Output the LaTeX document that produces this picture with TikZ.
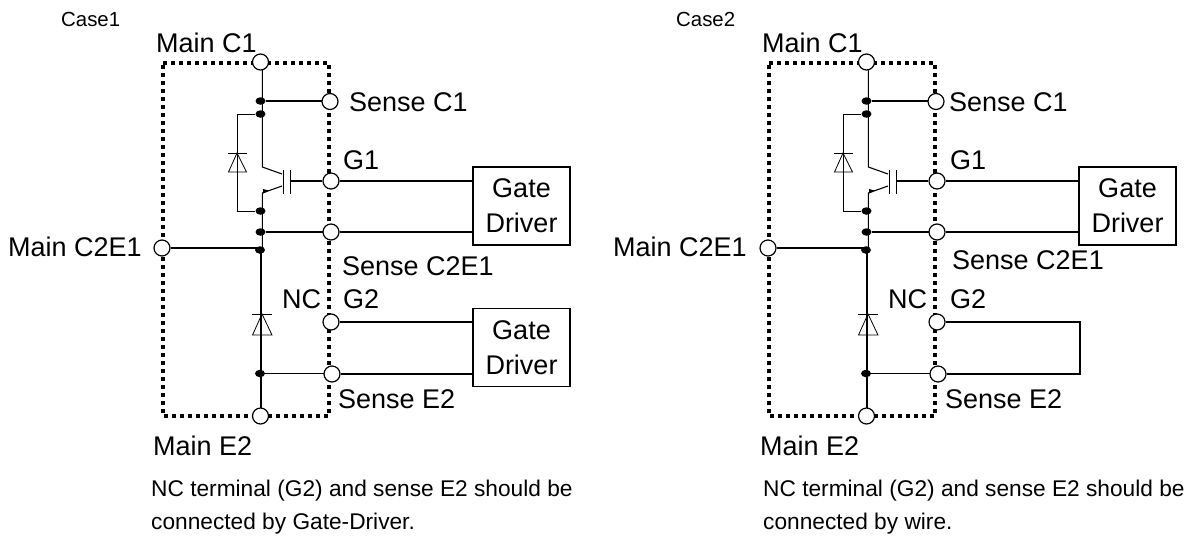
\documentclass[tikz,border=0pt]{standalone}
\usepackage{fontspec}
\setmainfont{Liberation Sans}
\usetikzlibrary{backgrounds,shapes.geometric}
\tikzset{
  px/.style={x=1pt,y=-1pt},
  term/.style={circle,draw=black,fill=white,line width=1.2pt,minimum size=16pt,inner sep=0pt},
  junc/.style={ellipse,fill=black,minimum width=10pt,minimum height=7.5pt,inner sep=0pt},
  wire/.style={draw=black,line width=1.1pt},
  thin wire/.style={draw=black,line width=0.8pt},
  dotbox/.style={draw=black,line width=3.2pt,dash pattern=on 3.6pt off 4.4pt},
  lab/.style={anchor=base west,inner sep=0pt,font=\fontsize{27}{30}\selectfont},
  small lab/.style={anchor=base west,inner sep=0pt,font=\fontsize{20.4}{24}\selectfont},
  note/.style={anchor=base west,inner sep=0pt,font=\fontsize{22.7}{26}\selectfont},
  driver/.style={draw=black,line width=1.2pt,minimum width=97pt,minimum height=78pt,inner sep=0pt,align=center,font=\fontsize{27}{35}\selectfont},
}
\newcommand{\modulecircuit}{%
  \coordinate (tl) at (163,63); \coordinate (tr) at (329,63);
  \coordinate (bl) at (163,416); \coordinate (br) at (329,416);
  \draw[dotbox] (tl) -- (tr) -- (br) -- (bl) -- cycle;
  \node[term] (mc1) at (260.5,62) {};
  \node[term] (sc1) at (330,101.5) {};
  \node[term] (g1) at (331,181) {};
  \node[term] (sc2) at (331,232) {};
  \node[term] (mc2) at (162,248) {};
  \node[term] (g2) at (331,322) {};
  \node[term] (se2) at (332,374) {};
  \node[term] (me2) at (260.5,416) {};
  \node[junc] (d1) at (260.5,101) {};
  \node[junc] (d2) at (260.5,114) {};
  \node[junc] (d3) at (260.5,211) {};
  \node[junc] (d4) at (260.5,232) {};
  \node[junc] (d5) at (260,250) {};
  \node[junc] (d6) at (260,373.5) {};
  \coordinate (cc) at (262.3,167);
  \coordinate (cg) at (282,174);
  \coordinate (eg) at (282,186);
  \coordinate (ee) at (262.3,193);
  \coordinate (lx) at (261,250);
  \coordinate (gt) at (283,170); \coordinate (gb) at (283,194);
  \coordinate (pt) at (290,170); \coordinate (pb) at (290,194);
  \coordinate (pm) at (290,181);
  \coordinate (at) at (237,114); \coordinate (ab) at (237,211);
  \begin{pgfonlayer}{background}
    \draw[wire] (cc |- mc1) -- (cc) -- (cg);
    \draw[wire] (eg) -- (ee) -- (ee |- d5);
    \draw[wire] (lx) -- (lx |- me2);
    \draw[wire] (d1) -- (d1 -| sc1);
    \draw[thin wire] (d2) -- (at) -- (ab) -- (d3);
    \draw[wire] (mc2) -- (mc2 -| d5);
    \draw[wire] (d4) -- (d4 -| sc2);
    \draw[wire] (d6) -- (d6 -| se2);
    \draw[thin wire] (gt) -- (gb);
    \draw[thin wire] (pt) -- (pb);
    \draw[wire] (pm) -- (g1);
    \fill (263,189) -- (269,190.5) -- (263,193.5) -- cycle;
  \end{pgfonlayer}
  \draw[thin wire] (228,153) -- (247,153);
  \draw[thin wire] (237,153) -- (228.5,172) -- (246.5,172) -- cycle;
  \draw[thin wire] (252,314) -- (272,314);
  \draw[thin wire] (262,314) -- (252.5,335) -- (272,335) -- cycle;
}
\begin{document}
\begin{tikzpicture}[px]
\useasboundingbox (0,0) rectangle (1193,536);
\begin{scope}[name prefix=a-]
  \modulecircuit
  \node[driver] (gd1) at (521.5,206) {Gate\\Driver};
  \node[driver] (gd2) at (521.5,347.5) {Gate\\Driver};
  \begin{pgfonlayer}{background}
    \draw[wire] (g1) -- (g1 -| gd1.west);
    \draw[wire] (sc2) -- (sc2 -| gd1.west);
    \draw[wire] (g2) -- (g2 -| gd2.west);
    \draw[wire] (se2) -- (se2 -| gd2.west);
  \end{pgfonlayer}
\end{scope}
\node[small lab] (t1) at (61,26.5) {Case1};
\node[lab] (t2) at (156,52.5) {Main C1};
\node[lab] (t3) at (349,111) {Sense C1};
\node[lab] (t4) at (343,169) {G1};
\node[lab] (t5) at (8,256) {Main C2E1};
\node[lab] (t6) at (342,275) {Sense C2E1};
\node[lab] (t7) at (343,308) {G2};
\node[lab] (t8) at (282,308) {NC};
\node[lab] (t9) at (338,408) {Sense E2};
\node[lab] (t10) at (153,455) {Main E2};
\node[note] (t11) at (151,496) {NC terminal (G2) and sense E2 should be};
\node[note] (t12) at (151,529) {connected by Gate-Driver.};
\begin{scope}[xshift=606pt,name prefix=b-]
  \modulecircuit
  \node[driver] (gd1) at (521.5,206) {Gate\\Driver};
  \coordinate (wr) at (474,322);
  \begin{pgfonlayer}{background}
    \draw[wire] (g1) -- (g1 -| gd1.west);
    \draw[wire] (sc2) -- (sc2 -| gd1.west);
    \draw[wire] (g2) -- (wr) -- (wr |- se2) -- (se2);
  \end{pgfonlayer}
\end{scope}
\node[small lab] (u1) at (676,26.5) {Case2};
\node[lab] (u2) at (762,52.5) {Main C1};
\node[lab] (u3) at (949,111) {Sense C1};
\node[lab] (u4) at (950,169) {G1};
\node[lab] (u5) at (613,256) {Main C2E1};
\node[lab] (u6) at (952,269) {Sense C2E1};
\node[lab] (u7) at (950,308) {G2};
\node[lab] (u8) at (888,308) {NC};
\node[lab] (u9) at (945,408) {Sense E2};
\node[lab] (u10) at (760,455) {Main E2};
\node[note] (u11) at (763,496) {NC terminal (G2) and sense E2 should be};
\node[note] (u12) at (763,529) {connected by wire.};
\end{tikzpicture}
\end{document}
